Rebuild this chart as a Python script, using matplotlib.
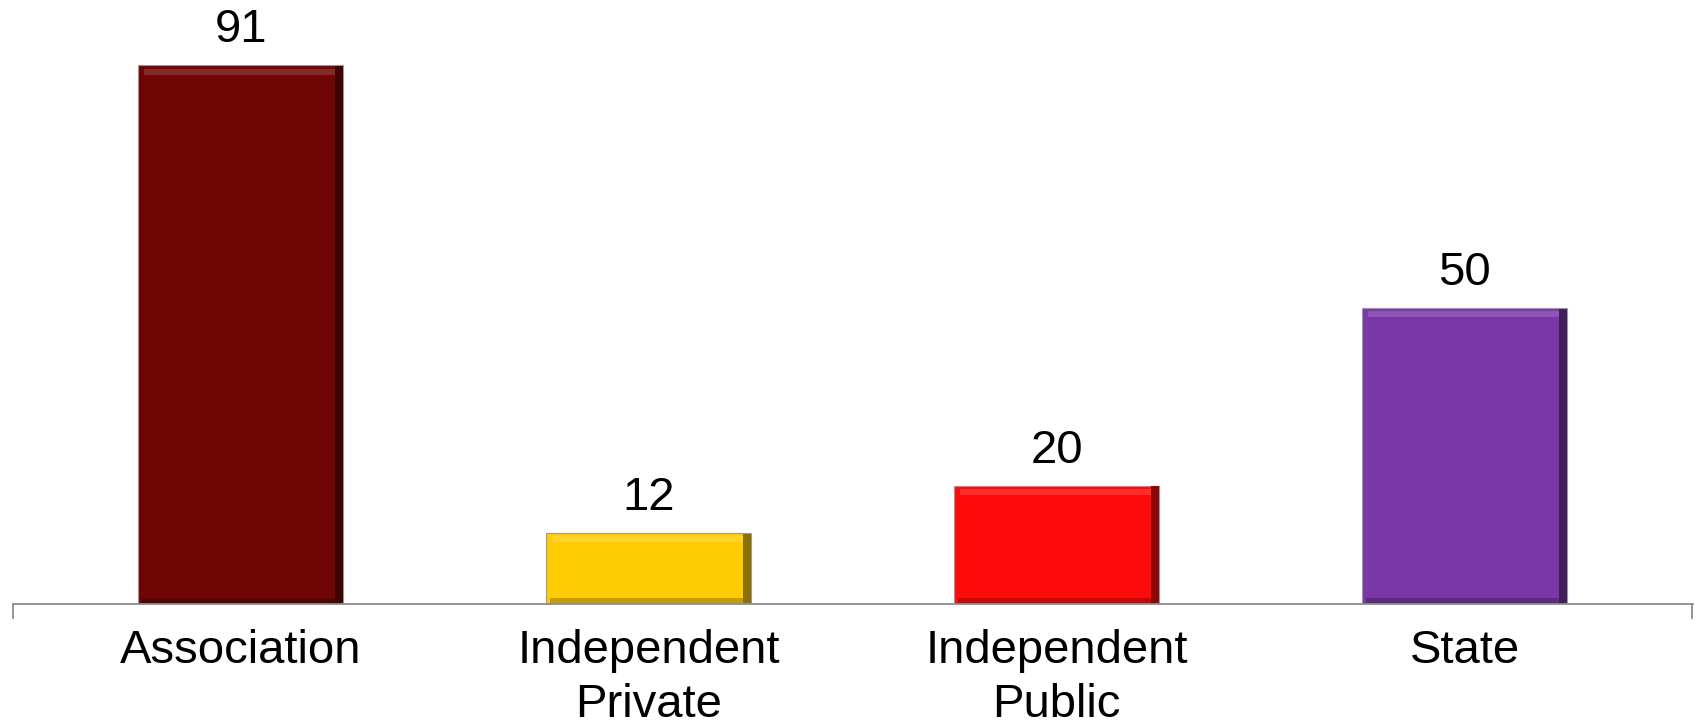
import matplotlib.pyplot as plt
import matplotlib.colors as mcolors
import numpy as np

# Chart data
categories = ["Association", "Independent\nPrivate", "Independent\nPublic", "State"]
values = [91, 12, 20, 50]
colors = ["#700505", "#FFCC05", "#FF0A0A", "#7A37A7"]

plt.rcParams['font.family'] = ['Liberation Sans', 'DejaVu Sans']

fig = plt.figure(figsize=(16.96, 7.24), dpi=100)
ax = fig.add_axes([13 / 1696, 120 / 724, 1680 / 1696, 604 / 724])

x = np.arange(len(categories))
width = 0.502

bars = ax.bar(x, values, width=width, color=colors, edgecolor="#9a9a9a", linewidth=0.8, zorder=2)

# simple bevel look: lighter band on top, darker band on right and bottom
for xi, v, c in zip(x, values, colors):
    rgb = np.array(mcolors.to_rgb(c))
    light = np.clip(rgb + (1 - rgb) * 0.3, 0, 1)
    dark = rgb * 0.55
    band = 1.0
    ax.bar(xi, band, width=width * 0.94, bottom=v - band * 1.6, color=light, alpha=0.5,
           linewidth=0, zorder=3)
    ax.bar(xi + width / 2 - 0.01, v - 0.3, width=0.02, bottom=0.15, color=dark,
           linewidth=0, zorder=3)
    ax.bar(xi, 0.9, width=width * 0.96, bottom=0.1, color=dark, alpha=0.5, linewidth=0, zorder=3)

for xi, v in zip(x, values):
    ax.text(xi, v + 2.2, str(v), ha="center", va="bottom", fontsize=34, color="black")

ax.set_xlim(-0.558, 3.56)
ax.set_ylim(0, 102)

ax.set_yticks([])
ax.set_xticks(x)
ax.set_xticklabels(categories, fontsize=34, linespacing=1.3)
ax.tick_params(axis="x", length=0, pad=18)

for s in ["top", "right", "left"]:
    ax.spines[s].set_visible(False)
ax.spines["bottom"].set_color("#8c8c8c")
ax.spines["bottom"].set_linewidth(1.3)

# end ticks of the category axis
ax.plot([-0.558, -0.558], [0, -2.4], color="#8c8c8c", lw=1.3, clip_on=False)
ax.plot([3.558, 3.558], [0, -2.4], color="#8c8c8c", lw=1.3, clip_on=False)

fig.savefig("out.png", dpi=100)
